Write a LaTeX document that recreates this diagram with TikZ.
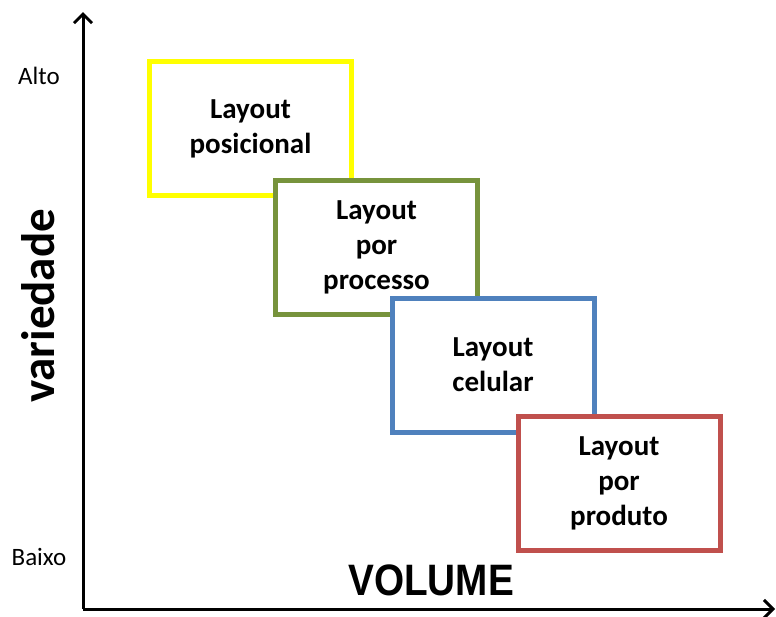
\documentclass[tikz,border=0pt]{standalone}
\usepackage{fontspec}
\setmainfont{Carlito}
\newfontfamily\headfont{Liberation Sans}
\usetikzlibrary{arrows.meta}
\definecolor{boxyellow}{HTML}{FFFF00}
\definecolor{boxgreen}{HTML}{77933C}
\definecolor{boxblue}{HTML}{4F81BD}
\definecolor{boxred}{HTML}{C0504D}
\tikzset{
  layoutbox/.style={draw, line width=5pt, fill=white, minimum width=202pt,
    minimum height=134pt, inner sep=0pt, align=center,
    font=\fontsize{29}{35}\selectfont\bfseries},
  axisline/.style={line width=3pt, -{Straight Barb[length=9pt,width=18pt,line width=3pt]}},
  levellabel/.style={font=\fontsize{25}{30}\selectfont, inner sep=0pt}
}
\begin{document}
\begin{tikzpicture}[x=1pt, y=-1pt]
  \useasboundingbox (0,0) rectangle (776,616);
  % axes
  \coordinate (origin) at (83,609);
  \coordinate (ytop) at (83,12);
  \coordinate (xend) at (775,609);
  \draw[axisline] (origin) -- (ytop);
  \draw[axisline] (origin) -- (xend);
  % axis labels
  \node[levellabel] (alto) at (39,76) {Alto};
  \node[levellabel] (baixo) at (39,557) {Baixo};
  \node[rotate=90, inner sep=0pt, font=\fontsize{47}{50}\selectfont\bfseries] (var) at (38,306) {variedade};
  \node[inner sep=0pt, xscale=0.88, font=\fontsize{44}{48}\selectfont\headfont\bfseries] (vol) at (431,580) {VOLUME};
  % layout types, each overlapping the previous one
  \node[layoutbox, draw=boxyellow] (pos) at (250.5,128.5) {Layout\\posicional};
  \node[layoutbox, draw=boxgreen] (proc) at (376.5,247) {Layout\\por\\processo};
  \node[layoutbox, draw=boxblue] (cel) at (493,365) {Layout\\celular};
  \node[layoutbox, draw=boxred] (prod) at (619,483.5) {Layout\\por\\produto};
\end{tikzpicture}
\end{document}
